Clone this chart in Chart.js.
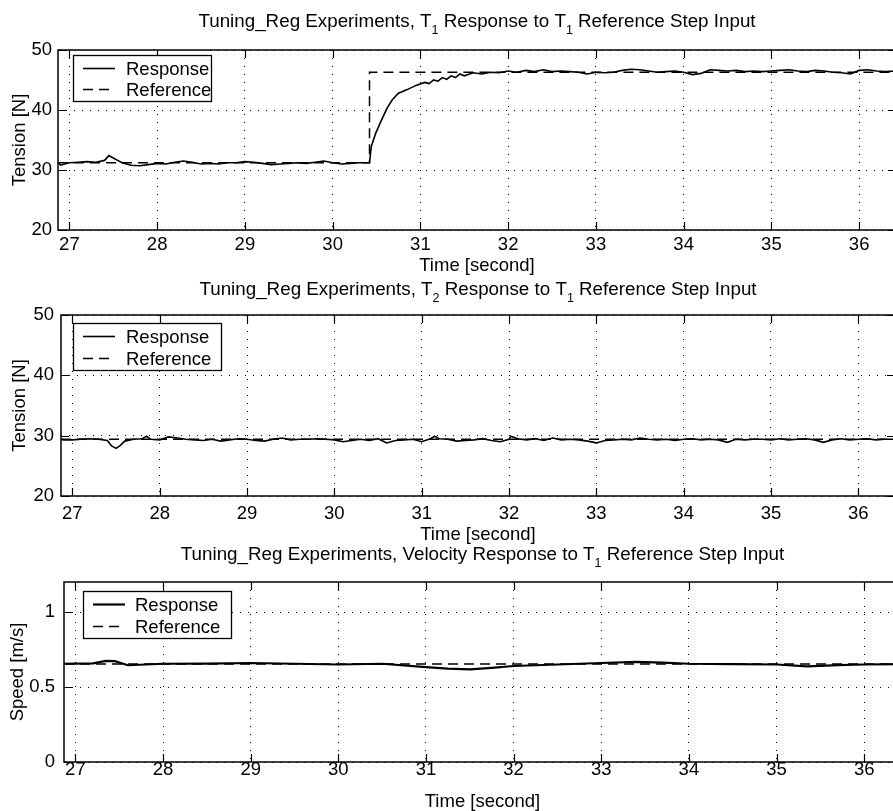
<!DOCTYPE html>
<html>
<head>
<meta charset="utf-8">
<title>Tuning_Reg Experiments</title>
<script src="https://cdn.jsdelivr.net/npm/chart.js@4.4.0/dist/chart.umd.min.js"></script>
<style>
    html, body { margin: 0; padding: 0; background: #ffffff; }
    body { width: 893px; height: 811px; position: relative; overflow: hidden; }
    canvas { position: absolute; left: 0; }
</style>
</head>
<body>
<canvas id="t1Chart" width="904" height="276" style="top:0px"></canvas>
<canvas id="t2Chart" width="904" height="268" style="top:276px"></canvas>
<canvas id="velChart" width="904" height="267" style="top:544px"></canvas>
<script>
// Shared time axis
const timeMin = 26.87;
const timeMax = 36.42;
const timeTicks = [27, 28, 29, 30, 31, 32, 33, 34, 35, 36];
const timeTickLabels = ['27', '28', '29', '30', '31', '32', '33', '34', '35', '36'];

const tensionTicks = [20, 30, 40, 50];
const tensionTickLabels = ['20', '30', '40', '50'];
const speedTicks = [0, 0.5, 1];
const speedTickLabels = ['0', '0.5', '1'];

// T1 response / reference [N]
const t1Time = [
    26.87, 26.9, 27.0, 27.1, 27.2, 27.3,
    27.4, 27.45, 27.5, 27.55, 27.6, 27.7, 27.8, 27.9,
    28.0, 28.1, 28.2, 28.3, 28.4, 28.5, 28.6, 28.7, 28.8, 28.9,
    29.0, 29.1, 29.2, 29.3, 29.4, 29.5, 29.6, 29.7, 29.8, 29.9,
    30.0, 30.1, 30.2, 30.3, 30.42,
    30.44, 30.49, 30.55, 30.62, 30.68, 30.75, 30.85, 30.95,
    31.05, 31.1, 31.15, 31.2, 31.25, 31.3, 31.35, 31.4, 31.45, 31.5,
    31.6, 31.7, 31.8, 31.9, 32.0, 32.1, 32.2, 32.3, 32.4, 32.5,
    32.6, 32.7, 32.8, 32.9, 33.0, 33.1, 33.2, 33.3, 33.4, 33.5,
    33.6, 33.7, 33.8, 33.9, 34.0, 34.1, 34.2, 34.3, 34.4, 34.5,
    34.6, 34.7, 34.8, 34.9, 35.0, 35.1, 35.2, 35.3, 35.4, 35.5,
    35.6, 35.7, 35.8, 35.9, 36.0, 36.1, 36.2, 36.3, 36.42
];
const t1Response = [
    31.3, 30.8, 31.2, 31.3, 31.4, 31.3,
    31.6, 32.4, 32.0, 31.6, 31.2, 30.8, 30.7, 30.9,
    31.1, 31.0, 31.3, 31.5, 31.3, 31.0, 31.1, 31.0, 31.2, 31.2,
    31.4, 31.3, 31.1, 30.9, 31.0, 31.1, 31.2, 31.1, 31.3, 31.5,
    31.2, 31.0, 31.1, 31.2, 31.2,
    33.9, 36.1, 38.1, 40.3, 41.7, 42.8, 43.4, 44.1,
    44.6, 44.4, 45.0, 44.8, 45.4, 45.1, 45.7, 45.4, 46.0, 45.7,
    46.2, 46.0, 46.3, 46.2, 46.5, 46.3, 46.6, 46.4, 46.7, 46.4,
    46.5, 46.4, 46.3, 46.0, 46.3, 46.2, 46.3, 46.6, 46.8, 46.7,
    46.5, 46.3, 46.4, 46.5, 46.3, 45.9, 46.1, 46.7, 46.6, 46.5,
    46.6, 46.4, 46.5, 46.4, 46.5, 46.6, 46.7, 46.5, 46.4, 46.6,
    46.5, 46.3, 46.2, 46.0, 46.6, 46.7, 46.5, 46.4, 46.5
];
const t1RefTime = [26.87, 30.42, 30.42, 36.42];
const t1Reference = [31.2, 31.2, 46.3, 46.3];

// T2 response / reference [N]
const t2Time = [
    26.87, 26.9, 27.0, 27.1, 27.2, 27.3, 27.4,
    27.45, 27.5, 27.55, 27.6, 27.7, 27.8, 27.85, 27.9,
    28.0, 28.1, 28.2, 28.3, 28.4, 28.5, 28.6, 28.7, 28.8, 28.9,
    29.0, 29.1, 29.2, 29.3, 29.4, 29.5, 29.6, 29.7, 29.8, 29.9,
    30.0, 30.1, 30.2, 30.3, 30.4, 30.5, 30.6, 30.7, 30.8, 30.9,
    31.0, 31.1, 31.15, 31.2, 31.3, 31.4, 31.5, 31.6, 31.7, 31.8, 31.9,
    32.0, 32.02, 32.1, 32.2, 32.3, 32.4, 32.5, 32.6, 32.7, 32.8, 32.9,
    33.0, 33.1, 33.2, 33.3, 33.4, 33.5, 33.6, 33.7, 33.8, 33.9,
    34.0, 34.1, 34.2, 34.3, 34.4, 34.5, 34.6, 34.7, 34.8, 34.9,
    35.0, 35.1, 35.2, 35.3, 35.4, 35.5, 35.6, 35.7, 35.8, 35.9,
    36.0, 36.1, 36.2, 36.3, 36.42
];
const t2Response = [
    29.4, 29.3, 29.3, 29.4, 29.5, 29.4, 29.2,
    28.3, 27.9, 28.4, 29.1, 29.4, 29.5, 29.9, 29.4,
    29.3, 29.8, 29.6, 29.4, 29.3, 29.2, 29.4, 29.1, 29.3, 29.5,
    29.4, 29.2, 29.1, 29.4, 29.6, 29.3, 29.4, 29.4, 29.5, 29.4,
    29.3, 29.0, 29.2, 29.4, 29.2, 29.5, 28.8, 29.2, 29.3, 29.4,
    29.0, 29.5, 29.9, 29.5, 29.4, 29.1, 29.2, 29.3, 29.5, 29.2, 29.0,
    29.4, 29.9, 29.5, 29.3, 29.5, 29.2, 29.6, 29.3, 29.4, 29.3, 29.1,
    28.8, 29.2, 29.3, 29.4, 29.3, 29.6, 29.4, 29.3, 29.4, 29.2,
    29.4, 29.5, 29.3, 29.4, 29.3, 28.9, 29.4, 29.3, 29.4, 29.4,
    29.3, 29.5, 29.3, 29.4, 29.5, 29.3, 28.9, 29.3, 29.5, 29.3,
    29.4, 29.5, 29.3, 29.4, 29.4
];
const t2RefTime = [26.87, 36.42];
const t2Reference = [29.4, 29.4];

// Velocity response / reference [m/s]
const velTime = [
    26.87, 27.0, 27.2, 27.35, 27.45, 27.6, 27.8, 28.0, 28.5, 29.0,
    29.5, 30.0, 30.5, 31.0, 31.25, 31.5, 31.75, 32.0, 32.5, 33.0,
    33.4, 33.7, 34.0, 34.5, 35.0, 35.35, 35.7, 36.0, 36.42
];
const velResponse = [
    0.655, 0.656, 0.658, 0.674, 0.672, 0.645, 0.650, 0.655, 0.656, 0.660,
    0.655, 0.650, 0.655, 0.632, 0.622, 0.617, 0.628, 0.640, 0.650, 0.660,
    0.668, 0.662, 0.655, 0.652, 0.650, 0.638, 0.646, 0.650, 0.652
];
const velRefTime = [26.87, 36.42];
const velReference = [0.653, 0.653];

const fontFamily = '"Liberation Sans", Arial, Helvetica, sans-serif';

function toPoints(xs, ys) {
    return xs.map((x, i) => ({ x: x, y: ys[i] }));
}

// Box round the axes plus inward tick marks on all four sides
const matlabFrame = {
    id: 'matlabFrame',
    afterDatasetsDraw(chart) {
        const { ctx, chartArea: a, scales } = chart;
        const len = 8;
        ctx.save();
        ctx.strokeStyle = '#000';
        ctx.lineWidth = 1.2;
        ctx.beginPath();
        scales.x.ticks.forEach(t => {
            const px = Math.round(scales.x.getPixelForValue(t.value)) + 0.5;
            ctx.moveTo(px, a.bottom);
            ctx.lineTo(px, a.bottom - len);
            ctx.moveTo(px, a.top);
            ctx.lineTo(px, a.top + len);
        });
        scales.y.ticks.forEach(t => {
            const py = Math.round(scales.y.getPixelForValue(t.value)) + 0.5;
            ctx.moveTo(a.left, py);
            ctx.lineTo(a.left + len, py);
            ctx.moveTo(a.right, py);
            ctx.lineTo(a.right - len, py);
        });
        ctx.stroke();
        ctx.lineWidth = 1.5;
        ctx.strokeRect(a.left, a.top, a.right - a.left, a.bottom - a.top);
        ctx.restore();
    }
};

// MATLAB style legend box in the upper left corner
const boxLegend = {
    id: 'boxLegend',
    afterDatasetsDraw(chart, args, opts) {
        const { ctx } = chart;
        ctx.save();
        ctx.fillStyle = '#fff';
        ctx.fillRect(opts.x, opts.y, opts.w, opts.h);
        ctx.strokeStyle = '#000';
        ctx.lineWidth = 1.3;
        ctx.strokeRect(opts.x + 0.5, opts.y + 0.5, opts.w, opts.h);
        ctx.font = '18.5px ' + fontFamily;
        ctx.textBaseline = 'middle';
        ctx.fillStyle = '#000';
        chart.data.datasets.forEach((ds, i) => {
            const ry = Math.round(opts.y + opts.rows[i]) + 0.5;
            ctx.setLineDash(ds.borderDash || []);
            ctx.lineWidth = ds.borderWidth;
            ctx.beginPath();
            ctx.moveTo(opts.x + opts.lineFrom, ry);
            ctx.lineTo(opts.x + opts.lineTo, ry);
            ctx.stroke();
            ctx.setLineDash([]);
            ctx.fillText(ds.label, opts.x + opts.textX, ry + 1);
        });
        ctx.restore();
    }
};

// Title with subscripts (T_1, T_2)
const subTitle = {
    id: 'subTitle',
    afterDraw(chart, args, opts) {
        const { ctx, chartArea: a } = chart;
        const mainFont = opts.size + 'px ' + fontFamily;
        const subFont = opts.subSize + 'px ' + fontFamily;
        ctx.save();
        ctx.fillStyle = '#000';
        ctx.textBaseline = 'alphabetic';
        ctx.textAlign = 'left';
        let total = 0;
        opts.parts.forEach(p => {
            ctx.font = p.sub ? subFont : mainFont;
            total += ctx.measureText(p.text).width;
        });
        let cx = (a.left + a.right) / 2 - total / 2;
        opts.parts.forEach(p => {
            ctx.font = p.sub ? subFont : mainFont;
            ctx.fillText(p.text, cx, opts.y + (p.sub ? opts.subDrop : 0));
            cx += ctx.measureText(p.text).width;
        });
        ctx.restore();
    }
};

function makeChart(canvasId, cfg) {
    const tickFont = { size: 18.5, family: fontFamily };
    return new Chart(document.getElementById(canvasId), {
        type: 'line',
        data: {
            datasets: [{
                label: 'Response',
                data: toPoints(cfg.time, cfg.response),
                borderColor: '#000',
                borderWidth: cfg.responseWidth,
                pointRadius: 0,
                tension: 0,
                fill: false
            }, {
                label: 'Reference',
                data: toPoints(cfg.refTime, cfg.reference),
                borderColor: '#000',
                borderWidth: 1.5,
                borderDash: [10, 6],
                pointRadius: 0,
                tension: 0,
                fill: false
            }]
        },
        options: {
            responsive: false,
            animation: false,
            devicePixelRatio: 1,
            layout: { padding: { top: cfg.padTop, right: cfg.padRight, left: 0, bottom: 0 } },
            plugins: {
                legend: { display: false },
                title: { display: false },
                tooltip: { enabled: false },
                boxLegend: cfg.legend,
                subTitle: {
                    parts: cfg.title,
                    y: cfg.titleY,
                    size: 18.8,
                    subSize: 12.5,
                    subDrop: 7
                }
            },
            scales: {
                x: {
                    type: 'linear',
                    min: timeMin,
                    max: timeMax,
                    afterBuildTicks: s => { s.ticks = timeTicks.map(v => ({ value: v })); },
                    afterFit: s => { s.height = cfg.xAxisHeight; },
                    grid: { color: '#000', lineWidth: 1, drawTicks: false },
                    border: { display: false, dash: [1, 7] },
                    ticks: {
                        color: '#000',
                        font: tickFont,
                        padding: cfg.xTickPad,
                        maxRotation: 0,
                        autoSkip: false,
                        callback: (v, i) => timeTickLabels[i]
                    },
                    title: {
                        display: true,
                        text: 'Time [second]',
                        color: '#000',
                        font: tickFont,
                        padding: { top: 0, bottom: cfg.xTitlePad }
                    }
                },
                y: {
                    type: 'linear',
                    min: cfg.yMin,
                    max: cfg.yMax,
                    afterBuildTicks: s => { s.ticks = cfg.yTicks.map(v => ({ value: v })); },
                    afterFit: s => { s.width = cfg.yAxisWidth; },
                    grid: { color: '#000', lineWidth: 1, drawTicks: false },
                    border: { display: false, dash: [1, 7] },
                    ticks: {
                        color: '#000',
                        font: tickFont,
                        padding: cfg.yTickPad,
                        autoSkip: false,
                        callback: (v, i) => cfg.yTickLabels[i]
                    },
                    title: {
                        display: true,
                        text: cfg.yTitle,
                        color: '#000',
                        font: tickFont,
                        padding: { top: cfg.yTitlePad, bottom: 0 }
                    }
                }
            }
        },
        plugins: [matlabFrame, boxLegend, subTitle]
    });
}

makeChart('t1Chart', {
    time: t1Time, response: t1Response, refTime: t1RefTime, reference: t1Reference,
    responseWidth: 1.6,
    yMin: 20, yMax: 50, yTicks: tensionTicks, yTickLabels: tensionTickLabels,
    yTitle: 'Tension [N]',
    padTop: 50, padRight: 8, yAxisWidth: 58, xAxisHeight: 46,
    xTickPad: 4, yTickPad: 6, xTitlePad: -1, yTitlePad: 9,
    titleY: 27,
    title: [
        { text: 'Tuning_Reg Experiments, T', sub: false },
        { text: '1', sub: true },
        { text: ' Response to T', sub: false },
        { text: '1', sub: true },
        { text: ' Reference Step Input', sub: false }
    ],
    legend: { x: 73, y: 55, w: 138, h: 46, rows: [13, 34], lineFrom: 10, lineTo: 42, textX: 53 }
});

makeChart('t2Chart', {
    time: t2Time, response: t2Response, refTime: t2RefTime, reference: t2Reference,
    responseWidth: 1.6,
    yMin: 20, yMax: 50, yTicks: tensionTicks, yTickLabels: tensionTickLabels,
    yTitle: 'Tension [N]',
    padTop: 39, padRight: 9, yAxisWidth: 61, xAxisHeight: 48,
    xTickPad: 7, yTickPad: 7, xTitlePad: -2, yTitlePad: 9,
    titleY: 19,
    title: [
        { text: 'Tuning_Reg Experiments, T', sub: false },
        { text: '2', sub: true },
        { text: ' Response to T', sub: false },
        { text: '1', sub: true },
        { text: ' Reference Step Input', sub: false }
    ],
    legend: { x: 73, y: 47, w: 148, h: 47, rows: [13, 35], lineFrom: 10, lineTo: 42, textX: 53 }
});

makeChart('velChart', {
    time: velTime, response: velResponse, refTime: velRefTime, reference: velReference,
    responseWidth: 2.2,
    yMin: 0, yMax: 1.2, yTicks: speedTicks, yTickLabels: speedTickLabels,
    yTitle: 'Speed [m/s]',
    padTop: 38, padRight: 3, yAxisWidth: 64, xAxisHeight: 49,
    xTickPad: -3, yTickPad: 9, xTitlePad: -2, yTitlePad: 7,
    titleY: 16,
    title: [
        { text: 'Tuning_Reg Experiments, Velocity Response to T', sub: false },
        { text: '1', sub: true },
        { text: ' Reference Step Input', sub: false }
    ],
    legend: { x: 83, y: 47, w: 148, h: 47, rows: [13, 35], lineFrom: 10, lineTo: 42, textX: 52 }
});
</script>
</body>
</html>
